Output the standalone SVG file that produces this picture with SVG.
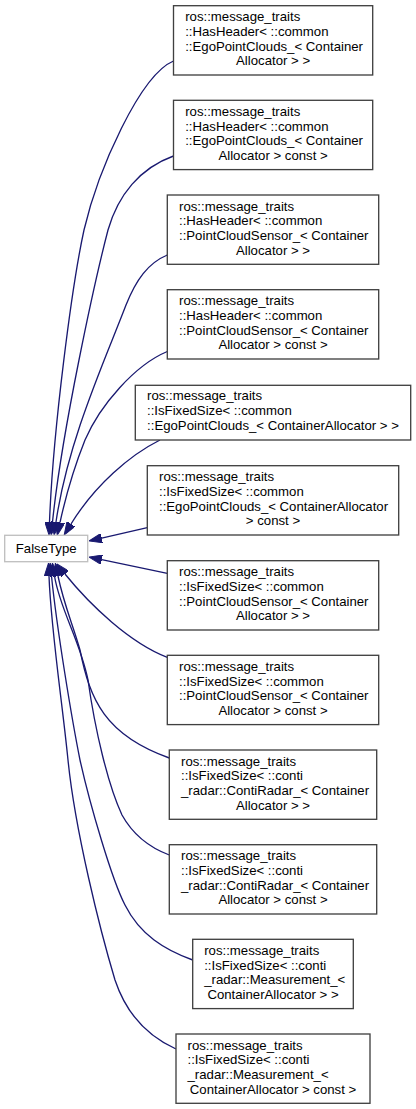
<svg xmlns="http://www.w3.org/2000/svg" width="416" height="1109" viewBox="0 0 416 1109">
<style>
.n{fill:#fff;stroke:#404040;stroke-width:1.33}
.g{fill:#fff;stroke:#bfbfbf;stroke-width:1.33}
text{font-family:"Liberation Sans",Arial,Helvetica,sans-serif;font-size:13.2px;fill:#000}
.c{text-anchor:middle}
.e{fill:none;stroke:#191970;stroke-width:1.33;marker-end:url(#ah)}
</style>
<defs>
<marker id="ah" markerUnits="userSpaceOnUse" viewBox="0 0 13 9.4" refX="0" refY="4.7" markerWidth="13" markerHeight="9.4" orient="auto">
<path d="M0,0 L13,4.7 L0,9.4 z" fill="#191970" stroke="#191970" stroke-width="1"/>
</marker>
</defs>
<rect width="416" height="1109" fill="#fff"/>
<g id="edges">
<path class="e" d="M173.5,61 C140,75 98,170 84,230 C72,285 53,430 49.5,522"/>
<path class="e" d="M173.5,156 C140,168 118,195 108,230 C95,280 62,430 52.5,522"/>
<path class="e" d="M167.3,255 C148,263 136,280 126,305 C105,360 68,440 56,522"/>
<path class="e" d="M167.3,351.5 C135,365 100,405 85,440 C75,465 66,495 60,522.5"/>
<path class="e" d="M160,440 C130,455 95,485 71,524"/>
<path class="e" d="M147.3,527.7 L101.7,538.1"/>
<path class="e" d="M167.3,573.3 L101.7,559.7"/>
<path class="e" d="M167.3,657.3 C130,643 90,605 65,574"/>
<path class="e" d="M169.3,758 C105,735 90,700 80,650 C73,625 64,605 58,576"/>
<path class="e" d="M169.3,855 C148,847 132,833 122,815 C108,785 95,730 88,680 C80,640 60,610 54.5,576"/>
<path class="e" d="M192.7,960 C165,950 140,935 125,905 C112,880 90,805 80,760 C72,720 57,630 51.5,576"/>
<path class="e" d="M176,1049 C145,1035 125,1010 115,980 C100,930 75,830 68,760 C62,700 51,630 49,576"/>
</g>
<g id="FalseType">
<rect class="g" x="4.7" y="535.3" width="83" height="26.4"/>
<text class="c" x="46.2" y="553">FalseType</text>
</g>
<g id="node1">
<rect class="n" x="173.5" y="5.7" width="199.2" height="69.3"/>
<text x="185.2" y="21.2">ros::message_traits</text>
<text x="185.2" y="35.9">::HasHeader&lt; ::common</text>
<text x="185.2" y="50.5">::EgoPointClouds_&lt; Container</text>
<text class="c" x="273.1" y="65.2">Allocator &gt; &gt;</text>
</g>
<g id="node2">
<rect class="n" x="173.5" y="100.3" width="199.2" height="69.3"/>
<text x="185.2" y="115.8">ros::message_traits</text>
<text x="185.2" y="130.5">::HasHeader&lt; ::common</text>
<text x="185.2" y="145.1">::EgoPointClouds_&lt; Container</text>
<text class="c" x="273.1" y="159.8">Allocator &gt; const &gt;</text>
</g>
<g id="node3">
<rect class="n" x="167.3" y="195" width="211.4" height="69.3"/>
<text x="179" y="210.5">ros::message_traits</text>
<text x="179" y="225.2">::HasHeader&lt; ::common</text>
<text x="179" y="239.8">::PointCloudSensor_&lt; Container</text>
<text class="c" x="273" y="254.5">Allocator &gt; &gt;</text>
</g>
<g id="node4">
<rect class="n" x="167.3" y="289.7" width="211.4" height="69.3"/>
<text x="179" y="305.2">ros::message_traits</text>
<text x="179" y="319.9">::HasHeader&lt; ::common</text>
<text x="179" y="334.5">::PointCloudSensor_&lt; Container</text>
<text class="c" x="273" y="349.2">Allocator &gt; const &gt;</text>
</g>
<g id="node5">
<rect class="n" x="135.3" y="385.3" width="275.4" height="54.7"/>
<text x="147" y="400.2">ros::message_traits</text>
<text x="147" y="414.8">::IsFixedSize&lt; ::common</text>
<text class="c" x="273" y="429.5">::EgoPointClouds_&lt; ContainerAllocator &gt; &gt;</text>
</g>
<g id="node6">
<rect class="n" x="147.3" y="465.7" width="251.4" height="69.3"/>
<text x="159" y="481.2">ros::message_traits</text>
<text x="159" y="495.9">::IsFixedSize&lt; ::common</text>
<text x="159" y="510.5">::EgoPointClouds_&lt; ContainerAllocator</text>
<text class="c" x="273" y="525.2">&gt; const &gt;</text>
</g>
<g id="node7">
<rect class="n" x="167.3" y="560.7" width="211.4" height="69.3"/>
<text x="179" y="576.2">ros::message_traits</text>
<text x="179" y="590.9">::IsFixedSize&lt; ::common</text>
<text x="179" y="605.5">::PointCloudSensor_&lt; Container</text>
<text class="c" x="273" y="620.2">Allocator &gt; &gt;</text>
</g>
<g id="node8">
<rect class="n" x="167.3" y="655.3" width="211.4" height="69.3"/>
<text x="179" y="670.8">ros::message_traits</text>
<text x="179" y="685.5">::IsFixedSize&lt; ::common</text>
<text x="179" y="700.1">::PointCloudSensor_&lt; Container</text>
<text class="c" x="273" y="714.8">Allocator &gt; const &gt;</text>
</g>
<g id="node9">
<rect class="n" x="169.3" y="750" width="207.4" height="69.3"/>
<text x="181" y="765.5">ros::message_traits</text>
<text x="181" y="780.2">::IsFixedSize&lt; ::conti</text>
<text x="181" y="794.8">_radar::ContiRadar_&lt; Container</text>
<text class="c" x="273" y="809.5">Allocator &gt; &gt;</text>
</g>
<g id="node10">
<rect class="n" x="169.3" y="844.7" width="207.4" height="69.3"/>
<text x="181" y="860.2">ros::message_traits</text>
<text x="181" y="874.9">::IsFixedSize&lt; ::conti</text>
<text x="181" y="889.5">_radar::ContiRadar_&lt; Container</text>
<text class="c" x="273" y="904.2">Allocator &gt; const &gt;</text>
</g>
<g id="node11">
<rect class="n" x="192.7" y="939.3" width="160.6" height="69.3"/>
<text x="204.2" y="954.8">ros::message_traits</text>
<text x="204.2" y="969.5">::IsFixedSize&lt; ::conti</text>
<text x="204.2" y="984.1">_radar::Measurement_&lt;</text>
<text class="c" x="273" y="998.8">ContainerAllocator &gt; &gt;</text>
</g>
<g id="node12">
<rect class="n" x="176" y="1034" width="194" height="69.3"/>
<text x="187.5" y="1049.5">ros::message_traits</text>
<text x="187.5" y="1064.2">::IsFixedSize&lt; ::conti</text>
<text x="187.5" y="1078.8">_radar::Measurement_&lt;</text>
<text class="c" x="273" y="1093.5">ContainerAllocator &gt; const &gt;</text>
</g>
</svg>
